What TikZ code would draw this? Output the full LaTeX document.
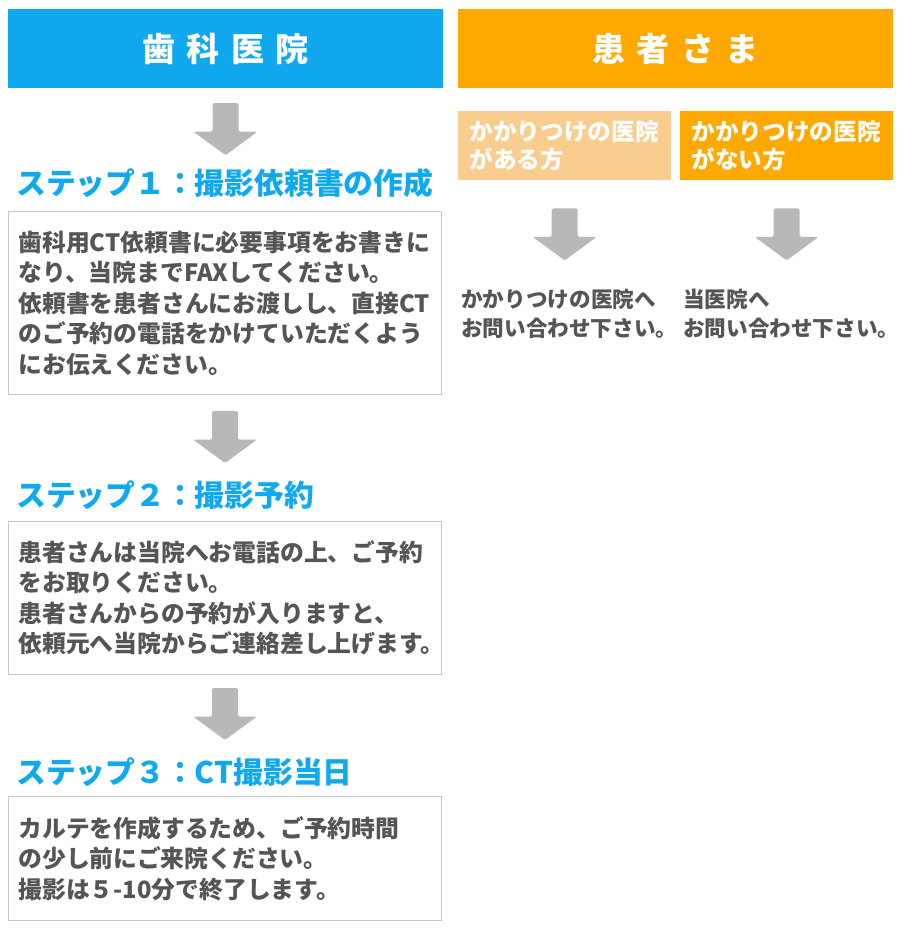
\documentclass[tikz,border=0pt]{standalone}
\usepackage{fontspec}
\setmainfont{Noto Sans CJK JP}
\newfontfamily\jpwide{Noto Sans CJK JP}[LetterSpace=34]
\usetikzlibrary{positioning,calc}
\definecolor{clinicblue}{HTML}{10A9F0}
\definecolor{patientorange}{HTML}{FFA800}
\definecolor{paleorange}{HTML}{F9CD8E}
\definecolor{arrowgray}{HTML}{B8B8B8}
\definecolor{textgray}{HTML}{555555}
\definecolor{framegray}{HTML}{C8C8C8}
\tikzset{
  header/.style    = {fill=#1, text=white, minimum width=435pt, minimum height=79pt,
                      inner sep=0pt, font=\jpwide\bfseries\fontsize{33}{33}\selectfont},
  stephead/.style  = {anchor=west, inner sep=0pt, text=clinicblue,
                      font=\bfseries\fontsize{29.8}{30}\selectfont},
  infobox/.style   = {draw=framegray, line width=1pt, anchor=north west, align=left,
                      text=textgray, text width=413pt, inner xsep=10pt, inner ysep=0pt,
                      font=\bfseries\fontsize{23.8}{30.5}\selectfont},
  choicebox/.style = {fill=#1, text=white, anchor=north west, align=left,
                      minimum width=213pt, minimum height=69pt, text width=190pt,
                      inner xsep=11.5pt, inner ysep=0pt,
                      font=\bfseries\fontsize{23.6}{28}\selectfont},
  answer/.style    = {anchor=west, align=left, inner sep=0pt, text=textgray,
                      font=\bfseries\fontsize{21.6}{29}\selectfont},
  pics/downarrow/.style = {code={
    \fill[arrowgray, rounded corners=1.5pt] (-13,0) -- (13,0) -- (13,28.5) -- (32,28.5)
      -- (0,52) -- (-32,28.5) -- (-13,28.5) -- cycle;}},
}
\begin{document}
\begin{tikzpicture}[x=1pt, y=-1pt]
  \useasboundingbox (0,0) rectangle (900,930);

  % left column: clinic
  \node[header=clinicblue] (clinic) at (225.5,48.5) {歯科医院};
  \pic at ([yshift=-15pt]clinic.south) {downarrow};
  \node[stephead] (step1) at (16,183) {ステップ１：撮影依頼書の作成};
  \node[infobox, minimum height=183pt] (box1) at (8,211)
    {歯科用CT依頼書に必要事項をお書きに\\なり、当院までFAXしてください。\\依頼書を患者さんにお渡しし、直接CT\\のご予約の電話をかけていただくよう\\にお伝えください。};
  \pic at ([yshift=-16pt]box1.south) {downarrow};
  \node[stephead] (step2) at (16,495) {ステップ２：撮影予約};
  \node[infobox, minimum height=153pt] (box2) at (8,521)
    {患者さんは当院へお電話の上、ご予約\\をお取りください。\\患者さんからの予約が入りますと、\\依頼元へ当院からご連絡差し上げます。};
  \pic at ([yshift=-13pt]box2.south) {downarrow};
  \node[stephead] (step3) at (16,772) {ステップ３：CT撮影当日};
  \node[infobox, minimum height=124pt] (box3) at (8,796)
    {カルテを作成するため、ご予約時間\\の少し前にご来院ください。\\撮影は５-10分で終了します。};

  % right column: patients
  \node[header=patientorange] (patient) at (675.5,48.5) {患者さま};
  \node[choicebox=paleorange] (have) at (458,111) {かかりつけの医院\\がある方};
  \node[choicebox=patientorange] (nohave) at (680,111) {かかりつけの医院\\がない方};
  \pic at ([yshift=-28pt]have.south) {downarrow};
  \pic at ([yshift=-28pt]nohave.south) {downarrow};
  \node[answer] (ans1) at (461,314) {かかりつけの医院へ\\お問い合わせ下さい。};
  \node[answer] (ans2) at (683,314) {当医院へ\\お問い合わせ下さい。};
\end{tikzpicture}
\end{document}
